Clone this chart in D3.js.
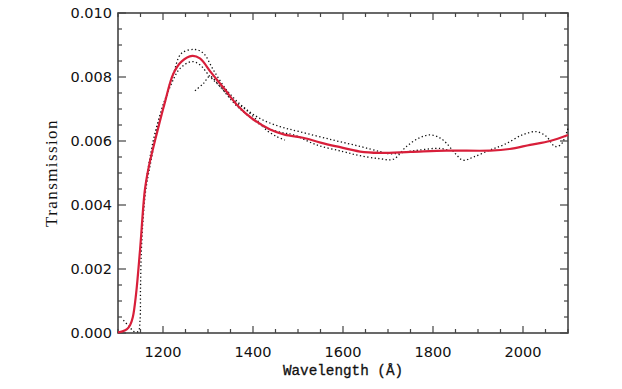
<!DOCTYPE html>
<html><head><meta charset="utf-8">
<script src="https://cdn.jsdelivr.net/npm/d3@7"></script>
<style>body{margin:0;background:#fff}svg{display:block}</style>
</head><body><svg id="c" width="622" height="389"></svg>
<script>
// ---- data ----
const xTicks = [1200, 1400, 1600, 1800, 2000];
const yTicks = [0.000, 0.002, 0.004, 0.006, 0.008, 0.010];
const redW = [1100,1110,1120,1127,1133,1140,1149,1160,1170,1182,1204,1223,1241,1265,1282,1308,1338,1365,1400,1438,1470,1511,1550,1586,1638,1680,1750,1830,1927,1970,2016,2060,2100];
const redT = [0.00002,0.00005,0.00012,0.00025,0.0005,0.0012,0.0026,0.0045,0.0053,0.0060,0.0072,0.0081,0.00848,0.00866,0.00858,0.00812,0.0076,0.00712,0.00668,0.00636,0.0062,0.0061,0.00595,0.00583,0.00567,0.00563,0.00566,0.0057,0.0057,0.00575,0.00588,0.006,0.00619];
const d1W = [1160,1170,1185,1204,1215,1223,1241,1271,1290,1312,1341,1378,1416,1460,1504,1578,1638,1682,1704,1760,1816,1835];
const d1T = [0.0045,0.0054,0.0064,0.00715,0.0078,0.0081,0.00874,0.00886,0.00874,0.00822,0.0076,0.00707,0.0067,0.00645,0.00629,0.00603,0.00583,0.00567,0.0056,0.0057,0.00577,0.0057];
const d2W = [1112,1125,1135,1145,1149,1150,1152,1156,1162,1175,1193,1216,1238,1264,1282,1304,1327,1356,1385,1416,1430,1452,1471];
const d2T = [0.0004,0.0002,0.00005,0.00005,0.0004,0.0014,0.0026,0.0036,0.0045,0.0055,0.0068,0.0077,0.00827,0.00848,0.00838,0.00802,0.0077,0.00728,0.00697,0.00655,0.00634,0.00614,0.00603];
const d3W = [1271,1290,1304,1327,1360,1393,1430,1470,1489,1541,1600,1638,1680,1712,1741,1770,1793,1815,1830,1850,1867,1890,1927,1960,2000,2030,2052,2071,2085,2100];
const d3T = [0.00757,0.0078,0.00802,0.0077,0.00715,0.00675,0.0064,0.00625,0.0062,0.00588,0.00567,0.00554,0.00545,0.00543,0.00583,0.0061,0.00619,0.0061,0.00593,0.0056,0.0054,0.0055,0.00572,0.0059,0.0062,0.00629,0.00614,0.00583,0.0059,0.0064];

const svg = d3.select("#c");
const L = 118, R = 568, T = 13, B = 333;
const x = d3.scaleLinear().domain([1100, 2100]).range([L, R]);
const y = d3.scaleLinear().domain([0, 0.010]).range([B, T]);
const axisCol = "#444";

// frame
svg.append("rect").attr("x", L).attr("y", T).attr("width", R - L).attr("height", B - T)
  .attr("fill", "none").attr("stroke", axisCol).attr("stroke-width", 1.6);

// ticks (inward on all four sides)
const xMinor = d3.range(1100, 2101, 50);
const yMinor = d3.range(0, 0.01001, 0.0005);
const isMajX = v => v % 200 === 0;
const isMajY = v => Math.abs(Math.round(v / 0.002) * 0.002 - v) < 1e-7;
const tg = svg.append("g").attr("stroke", axisCol).attr("stroke-width", 1.2);
xMinor.forEach(v => {
  const len = isMajX(v) ? 7 : 4;
  tg.append("line").attr("x1", x(v)).attr("x2", x(v)).attr("y1", B).attr("y2", B - len);
  tg.append("line").attr("x1", x(v)).attr("x2", x(v)).attr("y1", T).attr("y2", T + len);
});
yMinor.forEach(v => {
  const len = isMajY(v) ? 8 : 4;
  tg.append("line").attr("y1", y(v)).attr("y2", y(v)).attr("x1", L).attr("x2", L + len);
  tg.append("line").attr("y1", y(v)).attr("y2", y(v)).attr("x1", R).attr("x2", R - len);
});

// tick labels
const lab = svg.append("g").attr("font-family", "DejaVu Sans, sans-serif").attr("font-size", 14.5).attr("fill", "#111");
xTicks.forEach(v => lab.append("text").attr("x", x(v)).attr("y", 357).attr("text-anchor", "middle").text(v));
yTicks.forEach(v => lab.append("text").attr("x", 112).attr("y", y(v)).attr("dy", "0.36em").attr("text-anchor", "end").text(d3.format(".3f")(v)));

// axis titles
svg.append("text").attr("x", 343).attr("y", 375).attr("text-anchor", "middle")
  .attr("font-family", "Liberation Mono, DejaVu Sans Mono, monospace").attr("font-size", 14.3).attr("fill", "#111")
  .attr("stroke", "#111").attr("stroke-width", 0.3)
  .text("Wavelength (Å)");
svg.append("text").attr("transform", "translate(57,173) rotate(-90)").attr("text-anchor", "middle")
  .attr("font-family", "Liberation Serif, serif").attr("font-size", 17).attr("letter-spacing", 1.4).attr("fill", "#111")
  .text("Transmission");

// curves
const line = d3.line().x(d => x(d[0])).y(d => y(d[1])).curve(d3.curveCatmullRom.alpha(0.5));
const zip = (a, b) => a.map((v, i) => [v, b[i]]);
const plot = svg.append("g");
[[d1W, d1T], [d2W, d2T], [d3W, d3T]].forEach(([w, t]) => {
  plot.append("path").attr("d", line(zip(w, t))).attr("fill", "none")
    .attr("stroke", "#111").attr("stroke-width", 1.3).attr("stroke-dasharray", "1.3,2.4");
});
plot.append("path").attr("d", line(zip(redW, redT))).attr("fill", "none")
  .attr("stroke", "#d81f3a").attr("stroke-width", 2.2);
</script></body></html>
